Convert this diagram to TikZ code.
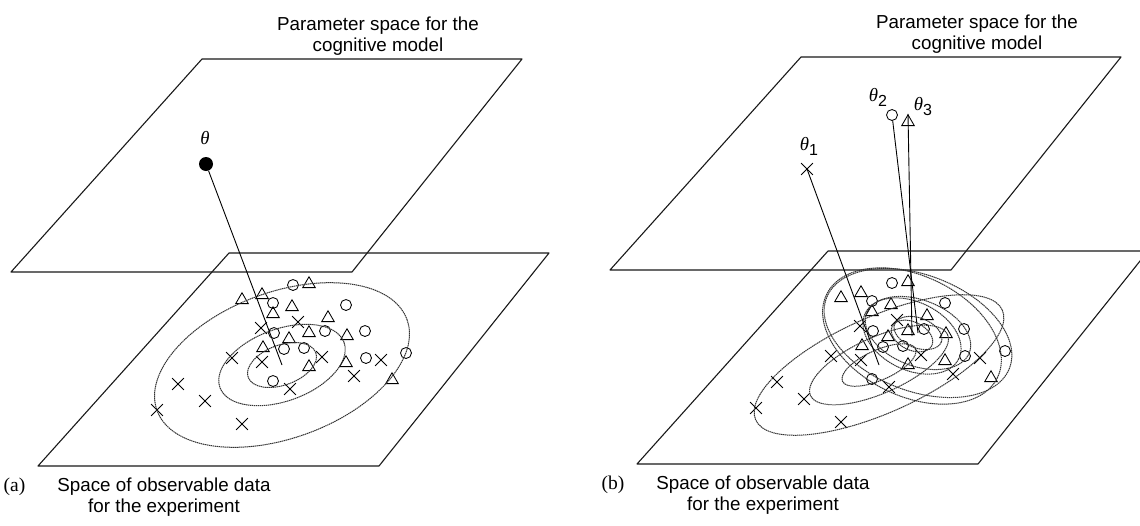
\documentclass[tikz,border=0pt]{standalone}
\usepackage{fontspec}
\setmainfont{Liberation Sans}
\newfontfamily\serifface{Liberation Serif}
\usetikzlibrary{positioning,shapes.geometric,shapes.misc}

\newcommand\sub[1]{\raisebox{-5pt}{\normalfont\fontsize{16}{16}\selectfont #1}}

\newcommand\obsdata[1]{%
  \foreach \px/\py [count=\i] in {293/285,273/303,346/305,274/333,325/331,365/331,284/349,304/348,366/358,406/353,273/381}
    \node[obs circ] (#1o\i) at (\px,\py) {};
  \foreach \px/\py [count=\i] in {242/300,262/295,309/284,292/307,273/314,328/318,309/333,347/336,289/339,263/348,309/367,346/363,392/380}
    \node[obs tri] (#1t\i) at (\px,\py) {};
  \foreach \px/\py [count=\i] in {261/328,298/322,232/358,262/362,322/357,381/360,354/376,178/384,205/401,290/389,157/410,242/424}
    \node[obs cross] (#1x\i) at (\px,\py) {};
}

\newcommand\planepair[1]{%
  \draw[plane] (202,59) -- (522,59) -- (352,272) -- (11,272) -- cycle;
  \draw[plane] (229,253) -- (549,253) -- (379,466) -- (38,466) -- cycle;
  \node[caption] (#1top) at (378,36) {Parameter space for the\\cognitive model};
  \node[caption] (#1cap) at (164,497) {Space of observable data\\for the experiment};
  \node[anchor=north east, font=\fontsize{19.5}{21}\serifface] (#1tag)
    at ([xshift=-25pt]#1cap.north west) {(#1)};
  \obsdata{#1}
}

\begin{document}
\begin{tikzpicture}[x=1pt, y=-1pt,
  font=\fontsize{18.8}{21}\selectfont,
  plane/.style={line width=1.1pt, line join=round, black!90},
  contour/.style={line width=1pt, dash pattern=on 1.4pt off 0.6pt, black!80},
  link/.style={line width=0.9pt},
  obs circ/.style={draw, circle, minimum size=11pt, inner sep=0pt, line width=0.85pt},
  obs tri/.style={draw, regular polygon, regular polygon sides=3, minimum size=14.5pt, inner sep=0pt, line width=0.85pt},
  obs cross/.style={draw, cross out, minimum size=11pt, inner sep=0pt, line width=0.85pt},
  caption/.style={align=center},
  thlab/.style={font=\fontsize{18.8}{21}\selectfont\serifface\itshape, inner sep=1pt}
]
\useasboundingbox (0,0) rectangle (1140,525);

% (a) one parameter value
\begin{scope}
  \planepair{a}
  \coordinate (ma) at (282,365);
  \foreach \rx/\ry in {133/73, 66/36, 36/20}
    \draw[contour, rotate around={20:(ma)}] (ma) ellipse [x radius=\rx, y radius=\ry];
  \node[circle, fill, inner sep=0pt, minimum size=14pt] (tha) at (206,164) {};
  \node[thlab] (la) at (205,138) {θ};
  \draw[link] (tha) -- (ma);
\end{scope}

% (b) three parameter values
\begin{scope}[shift={(599,-2)}]
  \planepair{b}
  \coordinate (mx) at (280,367);
  \coordinate (mo) at (319,335);
  \coordinate (mt) at (313,338);
  \foreach \rx/\ry in {135/48, 75/28, 40/15}
    \draw[contour, rotate around={24:(mx)}] (mx) ellipse [x radius=\rx, y radius=\ry];
  \foreach \rx/\ry in {98/58, 55/33, 25/15}
    \draw[contour, rotate around={-21:(mo)}] (mo) ellipse [x radius=\rx, y radius=\ry];
  \foreach \rx/\ry in {95/60, 52/34, 22/14}
    \draw[contour, rotate around={-26:(mt)}] (mt) ellipse [x radius=\rx, y radius=\ry];
  \node[obs cross] (th1) at (208,171) {};
  \node[obs circ] (th2) at (293,117) {};
  \node[obs tri] (th3) at (309,124) {};
  \node[thlab] (l1) at (210,148) {θ\sub{1}};
  \node[thlab] (l2) at (279,99) {θ\sub{2}};
  \node[thlab] (l3) at (324,109) {θ\sub{3}};
  \draw[link] (th1.center) -- (mx);
  \draw[link] (th2) -- (mo);
  \draw[link] (th3.corner 1) -- (mt);
\end{scope}
\end{tikzpicture}
\end{document}
